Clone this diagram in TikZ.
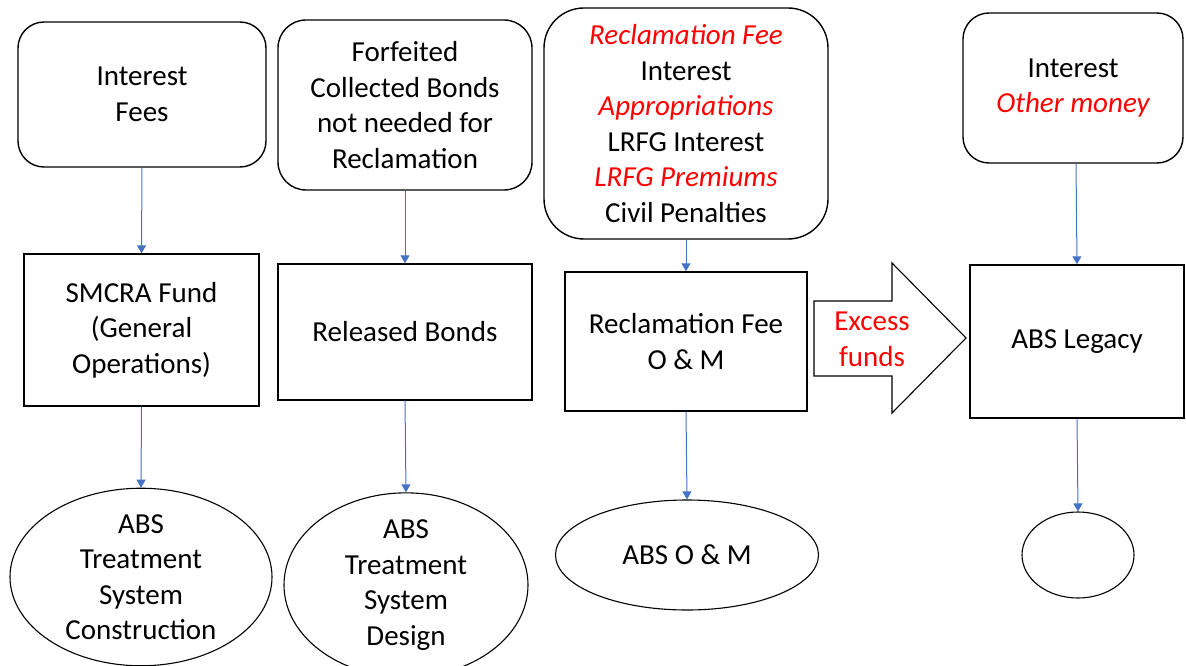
\documentclass[tikz,border=0pt]{standalone}
\usepackage{fontspec}
\setmainfont{Carlito}
\usetikzlibrary{arrows.meta,shapes.geometric}
\definecolor{flowblue}{HTML}{4472C4}
\definecolor{hot}{HTML}{FF0000}
\begin{document}
\begin{tikzpicture}[x=1pt,y=-1pt,
  every node/.style={font=\fontsize{29}{35.5}\selectfont, align=center, inner sep=0pt},
  srcbox/.style={draw, line width=1.4pt, rounded corners=#1},
  fundbox/.style={draw, line width=1.4pt},
  usebox/.style={draw, ellipse, line width=1.1pt},
  flow/.style={flowblue, line width=1pt, -{Triangle[width=9pt,length=8pt]}},
  red/.style={text=hot, font=\fontsize{29}{35.5}\selectfont\itshape}
]
\useasboundingbox (0,0) rectangle (1186,666);
% sources
\node[srcbox=26pt, minimum width=248pt, minimum height=145pt] (s1) at (142,94.5) {Interest\\Fees};
\node[srcbox=28pt, minimum width=254pt, minimum height=170pt] (s2) at (405,105) {Forfeited\\Collected Bonds\\not needed for\\Reclamation};
\node[srcbox=40pt, minimum width=284pt, minimum height=231pt] (s3) at (686,123.5) {{\color{hot}\itshape Reclamation Fee}\\Interest\\{\color{hot}\itshape Appropriations}\\LRFG Interest\\{\color{hot}\itshape LRFG Premiums}\\Civil Penalties};
\node[srcbox=26pt, minimum width=220pt, minimum height=150pt] (s4) at (1073,88) {Interest\\{\color{hot}\itshape Other money}};
% funds
\node[fundbox, minimum width=235pt, minimum height=152pt] (f1) at (141.5,330) {SMCRA Fund\\(General\\Operations)};
\node[fundbox, minimum width=254pt, minimum height=136pt] (f2) at (405,332) {Released Bonds};
\node[fundbox, minimum width=242pt, minimum height=139pt] (f3) at (686,341.5) {Reclamation Fee\\O \& M};
\node[fundbox, minimum width=214pt, minimum height=153pt] (f4) at (1077,341.5) {ABS Legacy};
% uses
\node[usebox, minimum width=262pt, minimum height=158pt] (u1) at (141,577) {ABS\\Treatment\\System\\Construction};
\node[usebox, minimum width=244pt, minimum height=150pt] (u2) at (406,585) {ABS\\Treatment\\System\\Design};
\node[usebox, minimum width=263pt, minimum height=110pt] (u3) at (687,555) {ABS O \& M};
\node[usebox, minimum width=112pt, minimum height=86pt] (u4) at (1078,555) {};
% block arrow
\draw[line width=1.1pt, line join=miter] (814,301) -- (892,301) -- (892,263) -- (966,338) -- (892,413) -- (892,376) -- (814,376) -- cycle;
\node[text=hot] (ex) at (872,339.5) {Excess\\funds};
% connectors
\draw[flow] (s1.south) -- (f1.north);
\draw[flow] (s2.south) -- (f2.north);
\draw[flow] (s3.south) -- (f3.north);
\draw[flow] ([xshift=3pt]s4.south) -- (f4.north);
\draw[flow] (f1.south) -- (u1.north);
\draw[flow] (f2.south) -- (u2.north);
\draw[flow] (f3.south) -- (u3.north);
\draw[flow] (f4.south) -- (u4.north);
\end{tikzpicture}
\end{document}
